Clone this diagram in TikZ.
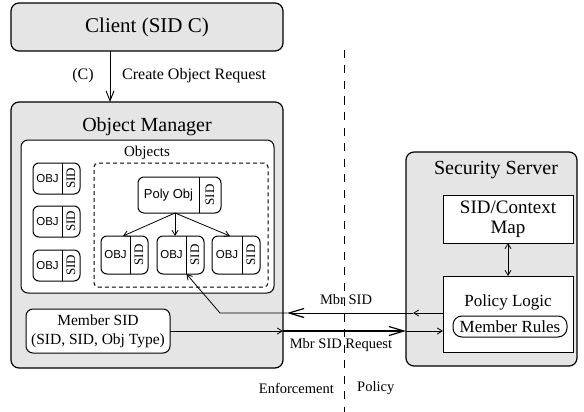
\documentclass[tikz,border=0pt]{standalone}
\usepackage{fontspec}
\setmainfont{Liberation Serif}
\newfontfamily\sansf{Liberation Sans}
\usetikzlibrary{arrows.meta}
\newcommand\fsz[2]{\fontsize{#1}{#2}\selectfont}
\tikzset{
  graybox/.style={draw, line width=1.2pt, rounded corners=8pt, fill=gray!20, inner sep=0pt, outer sep=0pt},
  whitebox/.style={draw, line width=1pt, rounded corners=7pt, fill=white, inner sep=0pt, outer sep=0pt},
  sqbox/.style={draw, line width=1pt, fill=white, inner sep=0pt, outer sep=0pt},
  objshape/.style={draw, line width=1pt, rounded corners=6pt, fill=white, inner sep=0pt, outer sep=0pt},
  objtxt/.style={inner sep=0pt, font=\sansf\fsz{11.5}{13}},
  sidtxt/.style={inner sep=0pt, font=\fsz{13}{14}, rotate=90},
  arr/.style={line width=0.8pt, -{Straight Barb[length=5pt,width=6pt]}},
  bigarr/.style={line width=0.9pt, -{Straight Barb[length=15pt,width=9pt,line width=1.2pt]}},
  lbl/.style={inner sep=0pt, font=\fsz{15}{18}},
}
\newcommand\objbox[7]{%
  \node[objshape, minimum width={#4-#2}, minimum height={#5-#3}] (#1) at ({(#2+#4)/2},{(#3+#5)/2}) {};
  \draw[line width=1pt] (#6,#3) -- (#6,#5);
  \node[objtxt] (#1-l) at ({(#2+#6)/2},{(#3+#5)/2}) {#7};
  \node[sidtxt] (#1-s) at ({(#6+#4)/2},{(#3+#5)/2}) {SID};
}
\begin{document}
\begin{tikzpicture}[x=1pt,y=-1pt]
\useasboundingbox[fill=white] (0,0) rectangle (584,412);

% Client
\node[graybox, minimum width=272, minimum height=48, font=\fsz{21}{25}] (client) at (147,27) {Client (SID C)};

% Object manager
\node[graybox, minimum width=272, minimum height=266] (om) at (147,235) {};
\node[inner sep=0pt, font=\fsz{20}{24}] (omt) at (147,127) {Object Manager};
\node[whitebox, minimum width=253, minimum height=153] (objs) at (147.5,216.5) {};
\node[lbl] (objst) at (147,153) {Objects};
\node[draw, line width=1pt, dash pattern=on 4pt off 3pt, rounded corners=4pt, minimum width=174, minimum height=124, inner sep=0pt, outer sep=0pt] (grp) at (181,225) {};

\objbox{l1}{33}{163}{80}{194}{62}{OBJ}
\objbox{l2}{33}{206}{80}{237}{62}{OBJ}
\objbox{l3}{33}{250}{80}{281}{62}{OBJ}
\objbox{poly}{138}{177}{221}{213}{199}{\fsz{13}{15}Poly Obj}
\objbox{b1}{101}{236}{148}{274}{130}{OBJ}
\objbox{b2}{157}{236}{204}{274}{186}{OBJ}
\objbox{b3}{212}{236}{260}{274}{242}{OBJ}

\coordinate (ps) at ([xshift=-4.5pt]poly.south);
\draw[arr] (ps) -- ([xshift=-1.5pt]b1.north);
\draw[arr] (ps) -- (b2.north -| ps);
\draw[arr] (ps) -- ([xshift=-6pt]b3.north);

\node[whitebox, minimum width=144, minimum height=44, align=center, font=\fsz{15.5}{19}] (msid) at (98,331) {Member SID\\(SID, SID, Obj Type)};

% Security server
\node[graybox, minimum width=171, minimum height=214] (ss) at (491.5,259) {};
\node[inner sep=0pt, font=\fsz{20}{24}] (sst) at (496,170) {Security Server};
\node[sqbox, minimum width=130, minimum height=48, align=center, font=\fsz{19}{20}] (map) at (508,219) {SID/Context\\Map};
\node[sqbox, minimum width=130, minimum height=76] (policy) at (508,314) {};
\node[inner sep=0pt, font=\fsz{17}{20}] (policyt) at (508,302) {Policy Logic};
\node[draw, line width=1pt, rounded corners=9pt, minimum width=114, minimum height=21, inner sep=0pt, fill=white, font=\fsz{17}{20}] (rules) at (510,326.5) {Member Rules};

\draw[line width=0.8pt, {Straight Barb[length=5pt,width=6pt]}-{Straight Barb[length=5pt,width=6pt]}] (map.south) -- (policy.north);

% client arrow
\coordinate (ca) at (110,0);
\draw[line width=0.9pt, -{Straight Barb[length=10pt,width=8pt]}] (ca |- client.south) -- (ca |- om.north);
\node[lbl, font=\fsz{16}{18}] (cl) at (83,76) {(C)};
\node[lbl, font=\fsz{16}{18}, anchor=west] (cor) at (122,76) {Create Object Request};

% Mbr SID Request
\draw[arr] (msid.east) -- (om.east |- msid.east);
\draw[bigarr, line width=2pt] (om.east |- msid.east) -- (ss.west |- msid.east);
\draw[arr] (ss.west |- msid.east) -- (policy.west |- msid.east);
\node[lbl, font=\fsz{14.5}{17}] (mreq) at (341,345) {Mbr SID Request};

% Mbr SID
\coordinate (bend) at (220,313);
\draw[arr] (policy.west |- bend) -- ([xshift=7pt]ss.west |- bend);
\draw (ss.west |- bend) -- ([xshift=7pt]ss.west |- bend);
\draw[bigarr] (ss.west |- bend) -- ([xshift=4pt]om.east |- bend);
\draw[arr] ([xshift=4pt]om.east |- bend) -- (bend) -- ([xshift=6pt]b2.south);
\node[lbl, font=\fsz{14.5}{17}] (msl) at (346,300) {Mbr SID};

% divider
\coordinate (dtop) at (344,50);
\coordinate (dbot) at (344,412);
\draw[line width=0.9pt, dash pattern=on 8pt off 7.5pt] (dtop) -- (dbot);
\node[lbl, font=\fsz{14.5}{17}, anchor=east] (enf) at (334,388) {Enforcement};
\node[lbl, font=\fsz{14.5}{17}, anchor=west] (pol) at (357,388) {Policy};
\end{tikzpicture}
\end{document}
